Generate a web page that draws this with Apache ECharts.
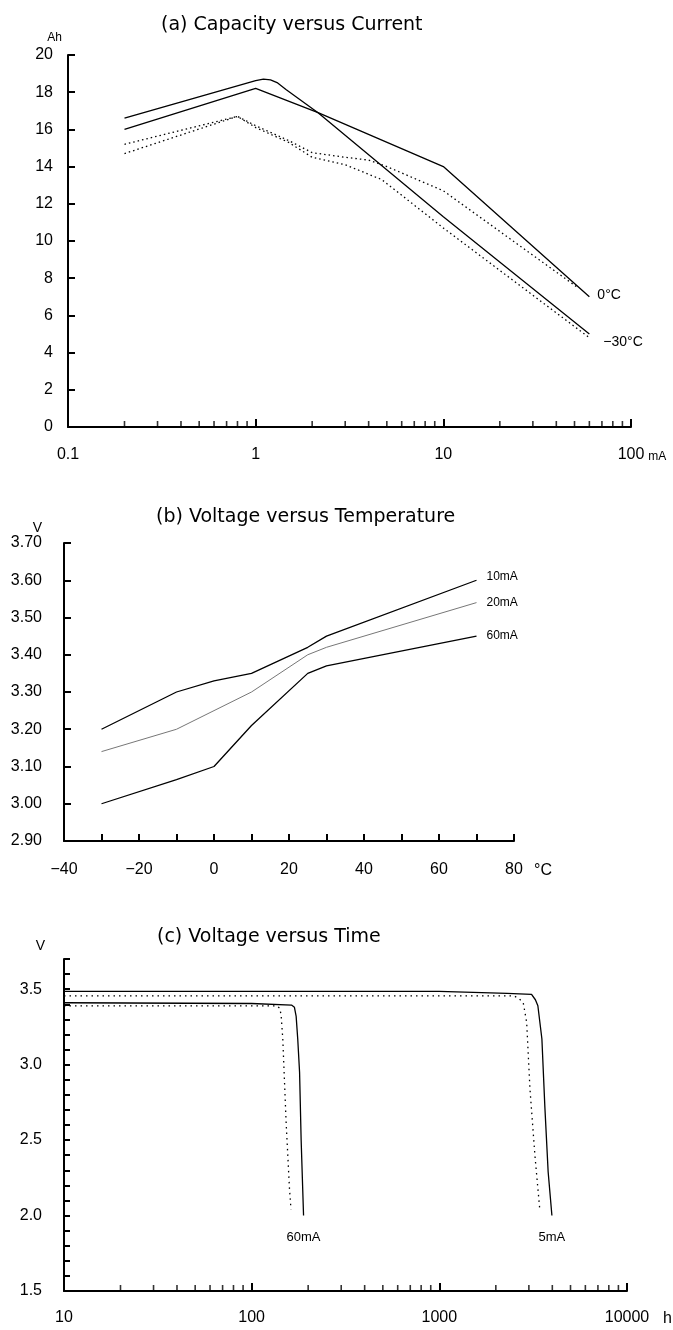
<!DOCTYPE html>
<html><head><meta charset="utf-8">
<script src="https://cdn.jsdelivr.net/npm/echarts@6/dist/echarts.min.js"></script>
<style>html,body{margin:0;padding:0;background:#fff}#c{width:673px;height:1330px}</style>
</head><body><div id="c"></div>
<script>
// ---------- (a) Capacity versus Current ----------
const capMinorTicks = [0.2,0.3,0.4,0.5,0.6,0.7,0.8,0.9,2,3,4,5,6,7,8,9,20,30,40,50,60,70,80,90];
const cap0Solid    = [[0.2,16.0],[1.0,18.2],[2.15,16.9],[10,14.0],[60,7.0]];
const capM30Solid  = [[0.2,16.6],[1.0,18.62],[1.1,18.7],[1.2,18.66],[1.3,18.52],[1.45,18.15],[2.15,16.9],[10,11.3],[60,5.0]];
const cap0Dotted   = [[0.2,15.2],[0.8,16.7],[1.0,16.2],[1.5,15.4],[2.0,14.75],[3.0,14.5],[4.0,14.35],[5.0,14.0],[10,12.7],[52,7.5]];
const capM30Dotted = [[0.2,14.7],[0.8,16.7],[1.0,16.1],[1.5,15.3],[2.0,14.5],[3.0,14.1],[4.7,13.3],[10,10.7],[60,4.8]];
const capLabels = ['0°C','−30°C'];

// ---------- (b) Voltage versus Temperature ----------
const tempX = [-30,-10,0,10,25,30,70];
const v10mA = [3.20,3.30,3.33,3.35,3.42,3.45,3.60];
const v20mA = [3.14,3.20,3.25,3.30,3.40,3.42,3.54];
const v60mA = [3.00,3.065,3.10,3.21,3.35,3.37,3.45];
const tempLabels = ['10mA','20mA','60mA'];

// ---------- (c) Voltage versus Time ----------
const timeMinorTicks = [20,30,40,50,60,70,80,90,200,300,400,500,600,700,800,900,2000,3000,4000,5000,6000,7000,8000,9000];
const t60Solid  = [[10,3.41],[100,3.405],[163,3.395],[169,3.38],[172.6,3.32],[176,3.17],[180,2.95],[183.5,2.5],[189,2.0]];
const t60Dotted = [[10,3.39],[135,3.39],[141,3.375],[143.5,3.33],[146.5,3.17],[152.6,2.62],[159,2.18],[162,2.04]];
const t5Solid   = [[10,3.485],[1000,3.485],[2300,3.472],[3100,3.465],[3250,3.43],[3350,3.39],[3520,3.17],[3650,2.72],[3800,2.29],[3980,2.0]];
const t5Dotted  = [[10,3.455],[2500,3.455],[2650,3.44],[2800,3.41],[2920,3.28],[3040,2.84],[3230,2.4],[3430,2.04]];
const timeLabels = ['60mA','5mA'];

const FONT = 'Liberation Sans, Arial, sans-serif';
const TFONT = '"DejaVu Sans", sans-serif';
const axisLine = {show:true, onZero:false, lineStyle:{color:'#000', width:2}};
const lblStyle = {color:'#000', fontSize:16, fontFamily:FONT};

function minorSeries(vals, yv, xi, yi){
  return {type:'scatter', xAxisIndex:xi, yAxisIndex:yi, silent:true, clip:false,
    symbol:'rect', symbolSize:[1.6,6], symbolOffset:[0,-3],
    itemStyle:{color:'#000'}, data: vals.map(v=>[v,yv]), z:5};
}
function lineS(data, xi, yi, style, extra){
  return Object.assign({type:'line', xAxisIndex:xi, yAxisIndex:yi, data:data, showSymbol:false,
    symbol:'none', silent:true, lineStyle:style}, extra||{});
}
function lastLabel(data, txt){
  return {showSymbol:true, symbol:'circle', symbolSize:0.01, itemStyle:{color:'#000'},
    label:{show:true, position:'bottom', distance:15, color:'#000', fontSize:13, fontFamily:FONT,
      formatter:p=> p.dataIndex===data.length-1 ? txt : ''}};
}
const solid = {color:'#000', width:1.3};
const dotted = {color:'#000', width:1.3, type:[1.5,3]};
const titleStyle = {fontFamily:TFONT, fontSize:19, fontWeight:'normal', color:'#000'};

const chart = echarts.init(document.getElementById('c'), null, {renderer:'canvas'});
chart.setOption({
  animation:false,
  backgroundColor:'#fff',
  title:[
    {text:'(a) Capacity versus Current', left:156, top:11, textStyle:titleStyle},
    {text:'(b) Voltage versus Temperature', left:151, top:503, textStyle:titleStyle},
    {text:'(c) Voltage versus Time', left:152, top:923, textStyle:titleStyle}
  ],
  grid:[
    {left:68, top:55, width:563, height:372},
    {left:64, top:543, width:450, height:298},
    {left:64, top:959, width:563, height:332}
  ],
  xAxis:[
    {type:'log', gridIndex:0, logBase:10, min:0.1, max:100, axisLine:axisLine,
     axisTick:{show:true, inside:true, length:8, lineStyle:{color:'#000', width:2}},
     axisLabel:Object.assign({margin:20, formatter:v=>String(v)}, lblStyle), splitLine:{show:false},
     name:'mA', nameLocation:'end', nameGap:15,
     nameTextStyle:{fontSize:12, fontFamily:FONT, color:'#000', verticalAlign:'top', padding:[24,0,0,0]}},
    {type:'value', gridIndex:1, min:-40, max:80, interval:10, axisLine:axisLine,
     axisTick:{show:true, inside:true, length:7, lineStyle:{color:'#000', width:2}},
     axisLabel:Object.assign({margin:21, formatter:v=> (v%20===0 ? String(v).replace('-','−') : '')}, lblStyle),
     splitLine:{show:false},
     name:'°C', nameLocation:'end', nameGap:20,
     nameTextStyle:{fontSize:16, fontFamily:FONT, color:'#000', verticalAlign:'top', padding:[22,0,0,0]}},
    {type:'log', gridIndex:2, logBase:10, min:10, max:10000, axisLine:axisLine,
     axisTick:{show:true, inside:true, length:8, lineStyle:{color:'#000', width:2}},
     axisLabel:Object.assign({margin:19, formatter:v=>String(v)}, lblStyle), splitLine:{show:false},
     name:'h', nameLocation:'end', nameGap:36,
     nameTextStyle:{fontSize:16, fontFamily:FONT, color:'#000', verticalAlign:'top', padding:[20,0,0,0]}}
  ],
  yAxis:[
    {type:'value', gridIndex:0, min:0, max:20, interval:2, axisLine:axisLine,
     axisTick:{show:true, inside:true, length:7, lineStyle:{color:'#000', width:2}},
     axisLabel:Object.assign({margin:15}, lblStyle), splitLine:{show:false},
     name:'Ah', nameLocation:'end', nameGap:11,
     nameTextStyle:{fontSize:12, fontFamily:FONT, color:'#000', align:'right', padding:[0,6,0,0]}},
    {type:'value', gridIndex:1, min:2.9, max:3.7, interval:0.1, axisLine:axisLine,
     axisTick:{show:true, inside:true, length:7, lineStyle:{color:'#000', width:2}},
     axisLabel:Object.assign({margin:22, formatter:v=>v.toFixed(2)}, lblStyle), splitLine:{show:false},
     name:'V', nameLocation:'end', nameGap:8,
     nameTextStyle:{fontSize:14, fontFamily:FONT, color:'#000', align:'right', padding:[0,22,0,0]}},
    {type:'value', gridIndex:2, min:1.5, max:3.7, interval:0.1, axisLine:axisLine,
     axisTick:{show:true, inside:true, length:6, lineStyle:{color:'#000', width:2}},
     axisLabel:Object.assign({margin:22, formatter:v=> (Math.round(v*10)%5===0 && v<3.65 ? v.toFixed(1) : '')}, lblStyle),
     splitLine:{show:false},
     name:'V', nameLocation:'end', nameGap:6,
     nameTextStyle:{fontSize:14, fontFamily:FONT, color:'#000', align:'right', padding:[0,19,0,0]}}
  ],
  series:[
    minorSeries(capMinorTicks, 0, 0, 0),
    lineS(cap0Solid, 0, 0, solid, {endLabel:{show:true, formatter:capLabels[0], distance:8, offset:[0,-2], color:'#000', fontSize:14, fontFamily:FONT}}),
    lineS(capM30Solid, 0, 0, solid, {endLabel:{show:true, formatter:capLabels[1], distance:14, offset:[0,8], color:'#000', fontSize:14, fontFamily:FONT}}),
    lineS(cap0Dotted, 0, 0, dotted),
    lineS(capM30Dotted, 0, 0, dotted),

    lineS(tempX.map((t,i)=>[t,v10mA[i]]), 1, 1, {color:'#000', width:1.3},
      {endLabel:{show:true, formatter:tempLabels[0], distance:10, offset:[0,-4], color:'#000', fontSize:12, fontFamily:FONT}}),
    lineS(tempX.map((t,i)=>[t,v20mA[i]]), 1, 1, {color:'#777', width:1},
      {endLabel:{show:true, formatter:tempLabels[1], distance:10, color:'#000', fontSize:12, fontFamily:FONT}}),
    lineS(tempX.map((t,i)=>[t,v60mA[i]]), 1, 1, {color:'#000', width:1.3},
      {endLabel:{show:true, formatter:tempLabels[2], distance:10, color:'#000', fontSize:12, fontFamily:FONT}}),

    minorSeries(timeMinorTicks, 1.5, 2, 2),
    lineS(t60Solid, 2, 2, {color:'#000', width:1.3}, lastLabel(t60Solid, timeLabels[0])),
    lineS(t60Dotted, 2, 2, {color:'#000', width:1.3, type:[1.5,4]}),
    lineS(t5Solid, 2, 2, {color:'#000', width:1.3}, lastLabel(t5Solid, timeLabels[1])),
    lineS(t5Dotted, 2, 2, {color:'#000', width:1.3, type:[1.5,4]})
  ]
});
</script></body></html>
